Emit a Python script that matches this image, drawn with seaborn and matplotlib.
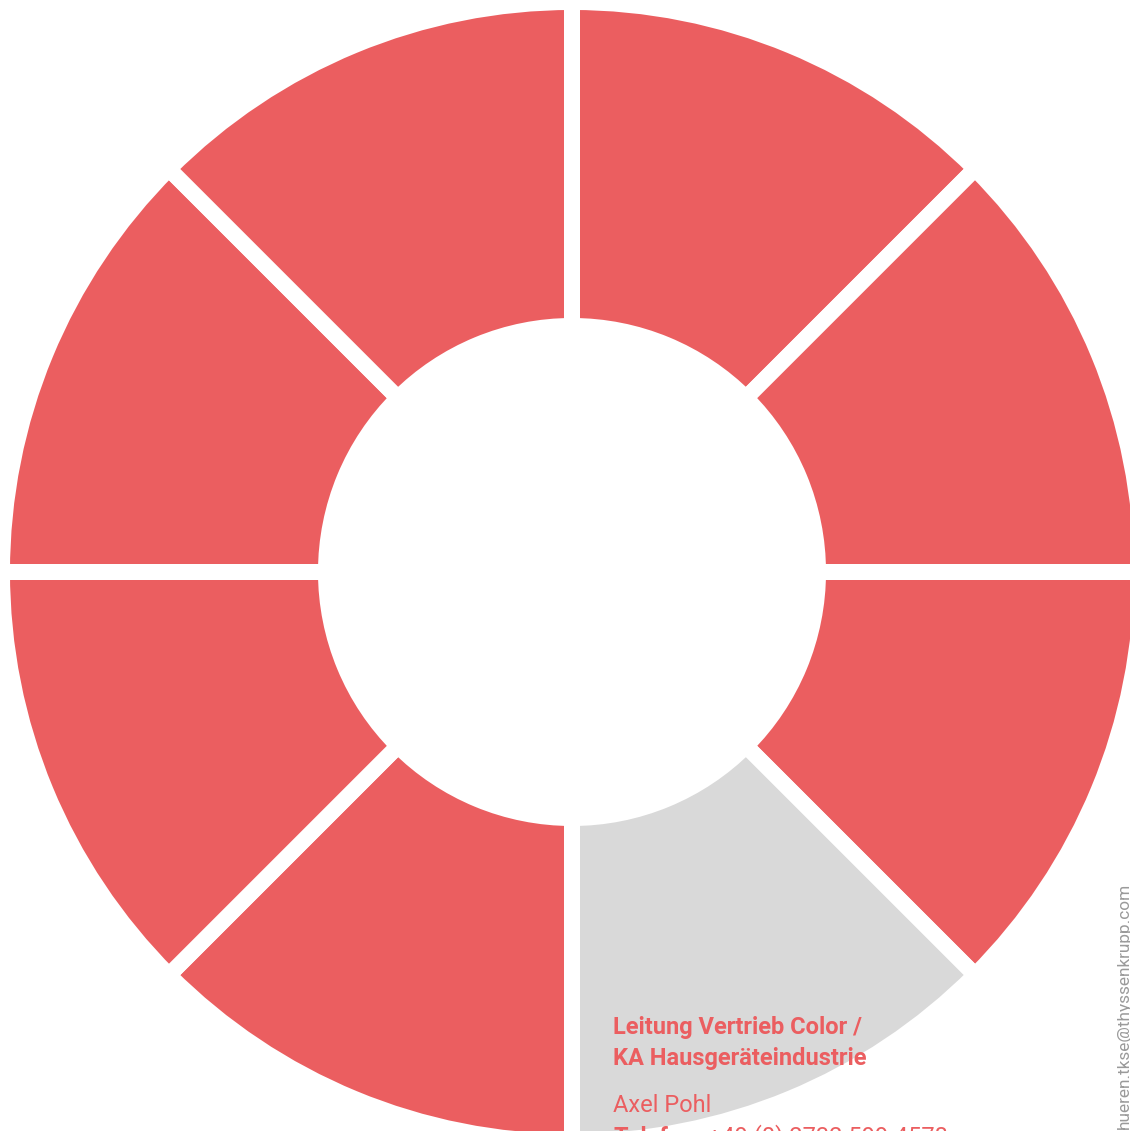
import numpy as np
import matplotlib
matplotlib.use("Agg")
import matplotlib.pyplot as plt
import seaborn as sns

# ---- data ----
segments = ["S1", "S2", "S3", "S4", "S5", "S6", "S7", "S8"]
shares = [1, 1, 1, 1, 1, 1, 1, 1]
highlight = [False, False, False, True, False, False, False, False]
title_lines = ["Leitung Vertrieb Color /", "KA Hausgeräteindustrie"]
contact_name = "Axel Pohl"
phone_label = "Telefon:"
phone_number = "+49 (0) 2732 599-4578"
email_text = "hueren.tkse@thyssenkrupp.com"

RED = "#EB5E60"
GREY = "#D9D9D9"

sns.set_theme(style="white")
plt.rcParams['font.family'] = ['Roboto', 'DejaVu Sans']

W, H, DPI = 1130, 1131, 100
fig = plt.figure(figsize=(W / DPI, H / DPI), dpi=DPI)
fig.patch.set_facecolor("white")
ax = fig.add_axes([0, 0, 1, 1])

colors = [GREY if h else RED for h in highlight]
s = 570.0  # pixels per data unit
cx, cy = 572.0, 572.0
gap_px = 16
ax.pie(shares, colors=colors, startangle=90, counterclock=False,
       radius=1.0, wedgeprops=dict(width=1 - 0.4316, edgecolor="white",
                                   linewidth=gap_px * 72 / DPI))
ax.set_aspect("auto")
ax.set_xlim(-cx / s, (W - cx) / s)
ax.set_ylim(-(H - cy) / s, cy / s)
ax.axis("off")

def fx(px):
    return px / W

def fy(py):
    return 1 - py / H

FS = 17
fig.text(fx(613), fy(1034), title_lines[0], color=RED, fontsize=FS,
         fontweight="bold", va="baseline", ha="left")
fig.text(fx(613), fy(1065), title_lines[1], color=RED, fontsize=FS,
         fontweight="bold", va="baseline", ha="left")
fig.text(fx(613), fy(1112), contact_name, color=RED, fontsize=FS,
         fontweight="normal", va="baseline", ha="left")
t = fig.text(fx(613), fy(1144), phone_label, color=RED, fontsize=FS,
             fontweight="bold", va="baseline", ha="left")
ax.annotate(phone_number, xy=(1, 0), xycoords=t, xytext=(5, 0),
            textcoords="offset points", color=RED, fontsize=FS,
            fontweight="normal", va="bottom", ha="left",
            annotation_clip=False)

fig.text(fx(1124), fy(883), email_text, color="#9A9A9A", fontsize=12.4,
         rotation=90, ha="center", va="top")

fig.savefig("out.png", dpi=DPI, facecolor="white")
